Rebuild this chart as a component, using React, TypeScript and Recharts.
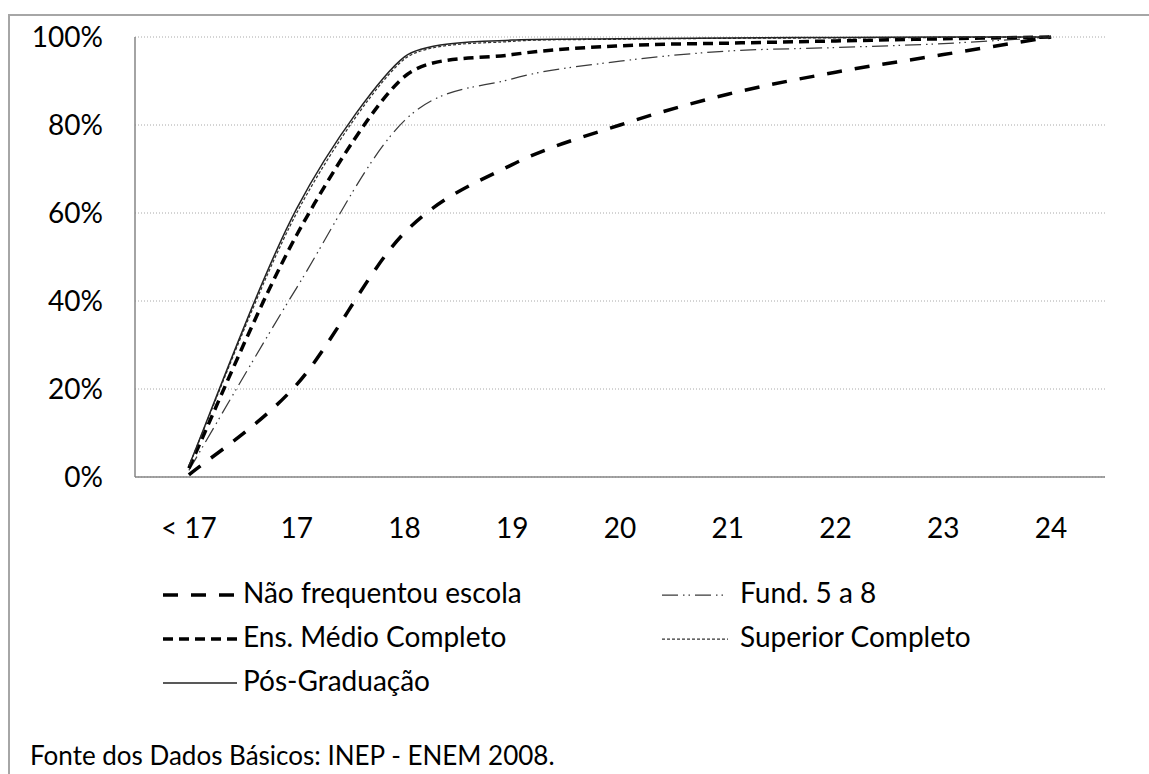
import { LineChart, Line, XAxis, YAxis, CartesianGrid } from "recharts";

const categories = ["< 17", "17", "18", "19", "20", "21", "22", "23", "24"];

// cumulative share of candidates by age, per parents' schooling
const naoFrequentou = [0.5, 21, 55.5, 71, 80, 87, 92, 96, 100];
const fund5a8 = [1.5, 43, 81, 90.5, 94.5, 96.8, 97.6, 98.5, 100];
const ensMedio = [2, 55, 91, 96, 98, 98.6, 99.1, 99.6, 100];
const superior = [2.5, 60, 95, 99, 99.5, 99.7, 99.8, 99.9, 100];
const posGrad = [2.5, 61, 95.5, 99.3, 99.6, 99.8, 99.9, 100, 100];

const yTicks = [0, 20, 40, 60, 80, 100];

const FONT = "Lato, 'Open Sans', sans-serif";

const SERIES = [
  { key: "nao", name: "Não frequentou escola", values: naoFrequentou, color: "#000", width: 3.5, dash: "15 13" },
  { key: "fund", name: "Fund. 5 a 8", values: fund5a8, color: "#3a3a3a", width: 1.25, dash: "16 5 1.5 4 1.5 5" },
  { key: "medio", name: "Ens. Médio Completo", values: ensMedio, color: "#000", width: 3.5, dash: "10 6" },
  { key: "sup", name: "Superior Completo", values: superior, color: "#333", width: 1.25, dash: "3 2" },
  { key: "pos", name: "Pós-Graduação", values: posGrad, color: "#222", width: 1.5, dash: undefined },
];

const data = categories.map((cat, i) => {
  const row: Record<string, string | number> = { cat };
  SERIES.forEach((s) => (row[s.key] = s.values[i]));
  return row;
});

// smoothed line like Excel's: Catmull-Rom tangents, shortened so the
// curve never overshoots the neighbouring points
function excelSmooth(context: any) {
  let pts: number[][] = [];
  return {
    areaStart() {},
    areaEnd() {},
    lineStart() {
      pts = [];
    },
    point(x: number, y: number) {
      pts.push([+x, +y]);
    },
    lineEnd() {
      const n = pts.length;
      if (!n) return;
      const tan = pts.map((p, i) => {
        const a = pts[Math.max(0, i - 1)];
        const b = pts[Math.min(n - 1, i + 1)];
        let tx = (b[0] - a[0]) / 6;
        let ty = (b[1] - a[1]) / 6;
        const lim = Math.min(
          i > 0 ? Math.abs(p[1] - a[1]) : Infinity,
          i < n - 1 ? Math.abs(b[1] - p[1]) : Infinity
        );
        if (Math.abs(ty) > lim && ty !== 0) {
          const k = lim / Math.abs(ty);
          tx *= k;
          ty *= k;
        }
        return [tx, ty];
      });
      context.moveTo(pts[0][0], pts[0][1]);
      for (let i = 0; i < n - 1; i++) {
        const p1 = pts[i];
        const p2 = pts[i + 1];
        context.bezierCurveTo(
          p1[0] + tan[i][0],
          p1[1] + tan[i][1],
          p2[0] - tan[i + 1][0],
          p2[1] - tan[i + 1][1],
          p2[0],
          p2[1]
        );
      }
    },
  };
}

function LegendAndFrame() {
  const rowY = [595, 639, 683];
  const cols = [
    { x1: 163, x2: 237, tx: 243 },
    { x1: 662, x2: 728, tx: 740 },
  ];
  return (
    <svg
      width={1149}
      height={774}
      style={{ position: "absolute", left: 0, top: 0, pointerEvents: "none" }}
    >
      <line x1={8} y1={15} x2={1149} y2={15} stroke="#a6a6a6" strokeWidth={2} />
      <line x1={9} y1={14} x2={9} y2={774} stroke="#a6a6a6" strokeWidth={2} />
      {SERIES.map((s, i) => {
        const c = cols[i % 2];
        const y = rowY[Math.floor(i / 2)];
        return (
          <g key={s.key}>
            <line
              x1={c.x1}
              x2={c.x2}
              y1={y}
              y2={y}
              stroke={s.color}
              strokeWidth={s.width}
              strokeDasharray={s.dash}
            />
            <text x={c.tx} y={y + 8} fontFamily={FONT} fontSize={28} fill="#000">
              {s.name}
            </text>
          </g>
        );
      })}
      <text x={30} y={765} fontFamily={FONT} fontSize={26} fill="#000">
        Fonte dos Dados Básicos: INEP - ENEM 2008.
      </text>
    </svg>
  );
}

export default function App() {
  return (
    <div
      style={{
        position: "fixed",
        left: 0,
        top: 0,
        width: 1149,
        height: 774,
        overflow: "hidden",
        background: "#fff",
      }}
    >
      <LineChart
        width={1149}
        height={774}
        data={data}
        margin={{ top: 37, right: 44, left: 35, bottom: 237 }}
      >
        <CartesianGrid
          horizontal
          vertical={false}
          stroke="#a8a8a8"
          strokeDasharray="1 2"
        />
        <XAxis
          dataKey="cat"
          scale="band"
          height={60}
          axisLine={{ stroke: "#868686", strokeWidth: 1.5 }}
          tickLine={false}
          tickSize={6}
          tickMargin={35}
          interval={0}
          tick={{ fontFamily: FONT, fontSize: 28, fill: "#000" }}
        />
        <YAxis
          width={100}
          domain={[0, 100]}
          ticks={yTicks}
          tickFormatter={(v) => `${v}%`}
          axisLine={{ stroke: "#868686", strokeWidth: 1.5 }}
          tickLine={false}
          tickSize={6}
          tickMargin={26}
          tick={{ fontFamily: FONT, fontSize: 28, fill: "#000" }}
        />
        {SERIES.map((s) => (
          <Line
            key={s.key}
            dataKey={s.key}
            name={s.name}
            type={excelSmooth as any}
            stroke={s.color}
            strokeWidth={s.width}
            strokeDasharray={s.dash}
            dot={false}
            activeDot={false}
            isAnimationActive={false}
          />
        ))}
      </LineChart>
      <LegendAndFrame />
    </div>
  );
}
